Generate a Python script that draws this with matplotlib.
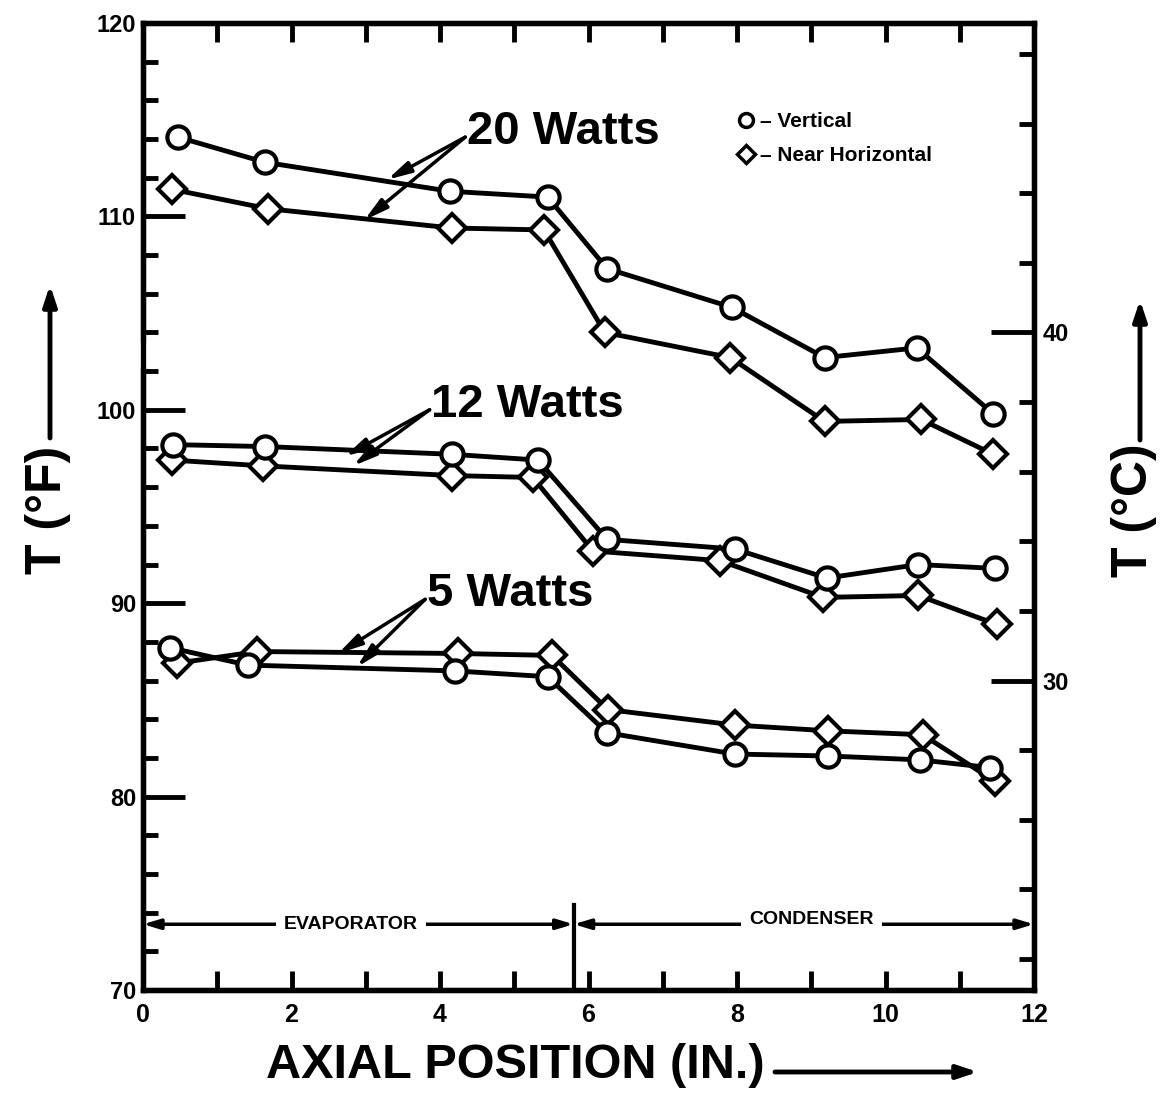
#Temperatura axial del tubo de calor
import numpy as np
import matplotlib
matplotlib.use("Agg")
import matplotlib.pyplot as plt
from matplotlib.lines import Line2D

plt.rcParams['font.family'] = ['Liberation Sans', 'DejaVu Sans']
plt.rcParams['font.weight'] = 'bold'

#Datos (posicion en pulgadas, T en grados F)
x_20_v = [0.47, 1.64, 4.13, 5.45, 6.25, 7.93, 9.18, 10.42, 11.45]
t_20_v = [114.1, 112.8, 111.3, 111.0, 107.3, 105.3, 102.7, 103.2, 99.8]
x_20_h = [0.39, 1.68, 4.16, 5.40, 6.22, 7.91, 9.18, 10.48, 11.45]
t_20_h = [111.4, 110.4, 109.4, 109.3, 104.0, 102.7, 99.4, 99.5, 97.7]

x_12_v = [0.40, 1.64, 4.16, 5.32, 6.25, 7.97, 9.21, 10.44, 11.47]
t_12_v = [98.2, 98.1, 97.7, 97.4, 93.3, 92.8, 91.3, 92.0, 91.8]
x_12_h = [0.39, 1.62, 4.16, 5.25, 6.06, 7.77, 9.16, 10.44, 11.50]
t_12_h = [97.4, 97.1, 96.6, 96.5, 92.7, 92.2, 90.3, 90.4, 88.9]

x_5_v = [0.36, 1.41, 4.20, 5.45, 6.25, 7.97, 9.23, 10.46, 11.41]
t_5_v = [87.7, 86.8, 86.5, 86.2, 83.3, 82.2, 82.1, 81.9, 81.5]
x_5_h = [0.46, 1.54, 4.24, 5.51, 6.26, 7.97, 9.23, 10.50, 11.47]
t_5_h = [86.9, 87.5, 87.4, 87.3, 84.5, 83.7, 83.4, 83.2, 80.8]

x_ticks = [0, 2, 4, 6, 8, 10, 12]
f_ticks = [70, 80, 90, 100, 110, 120]
c_ticks = [30, 40]
evap_end = 5.8

fig = plt.figure(figsize=(11.62, 11.19), dpi=100)
ax = fig.add_axes([143/1162, 1-990/1119, 891/1162, 967/1119])

estilo = dict(color='black', lw=3.5, mfc='white', mec='black', mew=3, zorder=3)
for xv, tv, xh, th in [(x_20_v, t_20_v, x_20_h, t_20_h),
                       (x_12_v, t_12_v, x_12_h, t_12_h),
                       (x_5_v, t_5_v, x_5_h, t_5_h)]:
    ax.plot(xh, th, marker='D', ms=14, **estilo)
    ax.plot(xv, tv, marker='o', ms=16, **estilo)

ax.set_xlim(0, 12)
ax.set_ylim(70, 120)
ax.set_xticks(x_ticks)
ax.set_xticks(np.arange(0, 13, 1), minor=True)
ax.set_yticks(f_ticks)
ax.set_yticks(np.arange(70, 121, 2), minor=True)
ax.tick_params(axis='x', which='both', direction='in', length=14, width=3.5,
               top=True, labelsize=18, pad=9)
ax.tick_params(axis='y', which='major', direction='in', length=30, width=3.5,
               labelsize=17, pad=5)
ax.tick_params(axis='y', which='minor', direction='in', length=11, width=3.5)
for s in ax.spines.values():
    s.set_linewidth(3.8)
#Corte del eje izquierdo
ax.plot([0, 0], [102.4, 103.2], color='white', lw=7, clip_on=False, zorder=6)

#Eje derecho en grados C
ax2 = ax.twinx()
ax2.set_ylim((70 - 32) / 1.8, (120 - 32) / 1.8)
ax2.set_yticks(c_ticks)
ax2.set_yticks(np.arange(22, 49, 2), minor=True)
ax2.tick_params(axis='y', which='major', direction='in', length=31, width=3.5,
                labelsize=17, pad=6)
ax2.tick_params(axis='y', which='minor', direction='in', length=11, width=3.5)
for s in ax2.spines.values():
    s.set_linewidth(3.8)

#Etiquetas de potencia con flechas
flecha = dict(arrowstyle='-|>,head_length=1.4,head_width=0.35', lw=2.5,
              color='black', shrinkA=0, shrinkB=0)
etiquetas = [('20 Watts', (4.34, 114.1), [(3.29, 111.9), (2.98, 109.8)]),
             ('12 Watts', (3.86, 100.0), [(2.72, 97.6), (2.83, 97.1)]),
             ('5 Watts', (3.80, 90.2), [(2.63, 87.4), (2.88, 86.7)])]
for txt, pos, puntas in etiquetas:
    ax.text(pos[0] + 0.02, pos[1] + 0.25, txt, fontsize=34, fontweight='bold',
            ha='left', va='center')
    for p in puntas:
        ax.annotate('', xy=p, xytext=pos, arrowprops=flecha)

#Leyenda
handles = [Line2D([], [], ls='', marker='o', ms=10, mfc='white', mec='black', mew=2.5),
           Line2D([], [], ls='', marker='D', ms=9, mfc='white', mec='black', mew=2.5)]
ax.legend(handles, ['\u2013 Vertical', '\u2013 Near Horizontal'], loc='upper left',
          bbox_to_anchor=(0.649, 0.927), frameon=False, handlelength=0.6,
          handletextpad=0.35, labelspacing=0.7, prop=dict(size=15, weight='bold'))

#Zonas evaporador / condensador
y_zona = 73.4
ax.plot([evap_end, evap_end], [70, 74.4], color='black', lw=3, zorder=4)
dob = dict(arrowstyle='<|-|>,head_length=1.0,head_width=0.3', lw=2.5, color='black',
           shrinkA=0, shrinkB=0)
ax.annotate('', xy=(0, y_zona), xytext=(evap_end, y_zona), arrowprops=dob)
ax.annotate('', xy=(evap_end, y_zona), xytext=(12, y_zona), arrowprops=dob)
ax.text(2.8, y_zona, 'EVAPORATOR', fontsize=14, ha='center', va='center',
        fontweight='bold', bbox=dict(fc='white', ec='none', pad=6))
ax.text(9.0, y_zona + 0.25, 'CONDENSER', fontsize=14, ha='center', va='center',
        fontweight='bold', bbox=dict(fc='white', ec='none', pad=6))

#Titulos de ejes
fig.text(515/1162, 1-1066/1119, 'AXIAL POSITION (IN.)', fontsize=35,
         fontweight='bold', ha='center', va='center')
fig.text(48/1162, 1-510/1119, 'T (\u00b0F)', fontsize=36, fontweight='bold',
         rotation=90, ha='center', va='center')
fig.text(1134/1162, 1-510/1119, 'T (\u00b0C)', fontsize=36, fontweight='bold',
         rotation=90, ha='center', va='center')
flecha2 = dict(arrowstyle='-|>,head_length=1.2,head_width=0.4', lw=3.5, color='black',
               shrinkA=0, shrinkB=0)
ax.annotate('', xy=(50/1162, 1-285/1119), xytext=(50/1162, 1-438/1119),
            xycoords='figure fraction', arrowprops=flecha2)
ax.annotate('', xy=(1140/1162, 1-300/1119), xytext=(1140/1162, 1-440/1119),
            xycoords='figure fraction', arrowprops=flecha2)
ax.annotate('', xy=(978/1162, 1-1072/1119), xytext=(775/1162, 1-1072/1119),
            xycoords='figure fraction', arrowprops=flecha2)

plt.savefig('out.png', dpi=100)
